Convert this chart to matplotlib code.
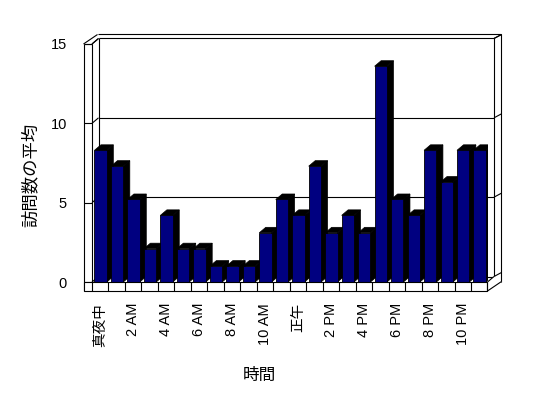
import matplotlib
matplotlib.use("Agg")
import matplotlib.pyplot as plt
from matplotlib.patches import Polygon
import numpy as np

plt.rcParams['font.family'] = ['Liberation Sans', 'Noto Sans CJK JP', 'DejaVu Sans']

# ---- data ----
hours = ['真夜中', '1 AM', '2 AM', '3 AM', '4 AM', '5 AM', '6 AM', '7 AM', '8 AM', '9 AM',
         '10 AM', '11 AM', '正午', '1 PM', '2 PM', '3 PM', '4 PM', '5 PM', '6 PM', '7 PM',
         '8 PM', '9 PM', '10 PM', '11 PM']
avg_visits = [8.3, 7.3, 5.2, 2.1, 4.2, 2.1, 2.1, 1.0, 1.0, 1.0,
              3.1, 5.2, 4.2, 7.3, 3.1, 4.2, 3.1, 13.6, 5.2, 4.2,
              8.3, 6.3, 8.3, 8.3]
y_ticks = [0, 5, 10, 15]
x_label = '時間'
y_label = '訪問数の平均'

W, H = 548, 398
fig = plt.figure(figsize=(W / 100, H / 100), dpi=100)
L, R, B, T = 92, 487.5, 282, 44  # front plane in pixels
ax = fig.add_axes([L / W, 1 - B / H, (R - L) / W, (B - T) / H])
n = len(hours)
ax.set_xlim(0, n)
ax.set_ylim(0, 15)
for s in ax.spines.values():
    s.set_visible(False)

sx = (R - L) / n      # px per category
sy = (B - T) / 15.0   # px per unit

def X(p):  # pixel x -> data x
    return (p - L) / sx

def Y(p):  # pixel y (from top) -> data y
    return (B - p) / sy

lw = 0.8
def line(xs, ys, z=50):
    ax.plot([X(v) for v in xs], [Y(v) for v in ys], color='black', lw=lw,
            clip_on=False, zorder=z, solid_capstyle='butt')

# depths (pixels)
idx, idy = 6.5, 5.5    # inner (bars / back wall)
odx, ody = 14.0, 9.5   # outer
wall = 8.5             # left wall thickness
slab = 9.0             # floor thickness

# back wall gridlines (behind bars)
for t in y_ticks:
    yf = B - t * sy
    yb = yf - idy
    line([L + idx, R + idx], [yb, yb], z=1)
    line([L, L + idx], [yf, yb], z=1)
    line([R + idx, R + odx], [yb, yb - (ody - idy)], z=1)
    line([L - wall, L], [yf, yf], z=60)

# back-left and back-right inner corners
line([L + idx, L + idx], [T - idy, B - idy], z=1)
line([R + idx, R + idx], [T - idy, B - idy], z=1)

# bars
ddx = idx / sx
ddy = idy / sy
x0 = np.arange(n) + 0.15
bw = 0.75
bars = ax.bar(x0, avg_visits, width=bw, align='edge', color='#000080',
              edgecolor='black', linewidth=0.6)
for i, (b, v) in enumerate(zip(bars, avg_visits)):
    xl = x0[i]
    xr = xl + bw
    side = Polygon([(xr, 0), (xr, v), (xr + ddx, v + ddy), (xr + ddx, ddy)],
                   closed=True, facecolor='black', edgecolor='black', lw=0.5,
                   zorder=2 + 2 * i)
    top = Polygon([(xl, v), (xl + ddx, v + ddy), (xr + ddx, v + ddy), (xr, v)],
                  closed=True, facecolor='black', edgecolor='black', lw=0.5,
                  zorder=2 + 2 * i)
    ax.add_patch(side)
    ax.add_patch(top)
    b.set_zorder(3 + 2 * i)

# left wall
line([L - wall, L - wall], [T, B + slab], z=60)
line([L - wall, L], [T, T], z=60)
line([L, L], [T, B], z=60)
line([L - wall, L - wall + odx], [T, T - ody], z=60)
line([L, L + idx], [T, T - idy], z=60)
# top edges
line([L - wall + odx, R + odx], [T - ody, T - ody], z=60)
# right wall
line([R + odx, R + odx], [T - ody, B + slab - ody], z=60)
line([R + idx, R + odx], [T - idy, T - ody], z=60)

# floor slab
slab_rect = Polygon([(X(L - wall), Y(B)), (X(R), Y(B)), (X(R), Y(B + slab)),
                     (X(L - wall), Y(B + slab))], closed=True, facecolor='white',
                    edgecolor='black', lw=lw, zorder=70, clip_on=False)
ax.add_patch(slab_rect)
for k in range(n + 1):
    xp = L + k * sx
    line([xp, xp], [B, B + slab], z=71)
side_slab = Polygon([(X(R), Y(B)), (X(R + idx), Y(B - idy)), (X(R + odx), Y(B + slab - ody)),
                     (X(R), Y(B + slab))], closed=True, facecolor='white',
                    edgecolor='none', zorder=69, clip_on=False)
ax.add_patch(side_slab)
line([R, R + idx], [B, B - idy], z=71)
line([R, R + odx], [B + slab, B + slab - ody], z=71)

# ticks and labels
ax.set_yticks(y_ticks)
ax.set_yticklabels([str(t) for t in y_ticks], fontsize=10.5)
ax.tick_params(axis='y', length=0, pad=18)
pos = np.arange(0, n, 2) + 0.5
ax.set_xticks(pos)
ax.set_xticklabels([hours[i] for i in range(0, n, 2)], rotation=90, fontsize=10.5)
ax.tick_params(axis='x', length=0, pad=15)

ax.set_xlabel(x_label, fontsize=12)
ax.xaxis.set_label_coords((259 - L) / (R - L), (B - 375) / (B - T))
ax.xaxis.label.set_va('center')
ax.set_ylabel(y_label, fontsize=12.5)
ax.yaxis.set_label_coords((30 - L) / (R - L), (B - 175) / (B - T))
ax.yaxis.label.set_va('center')

fig.savefig('out.png', dpi=100)
